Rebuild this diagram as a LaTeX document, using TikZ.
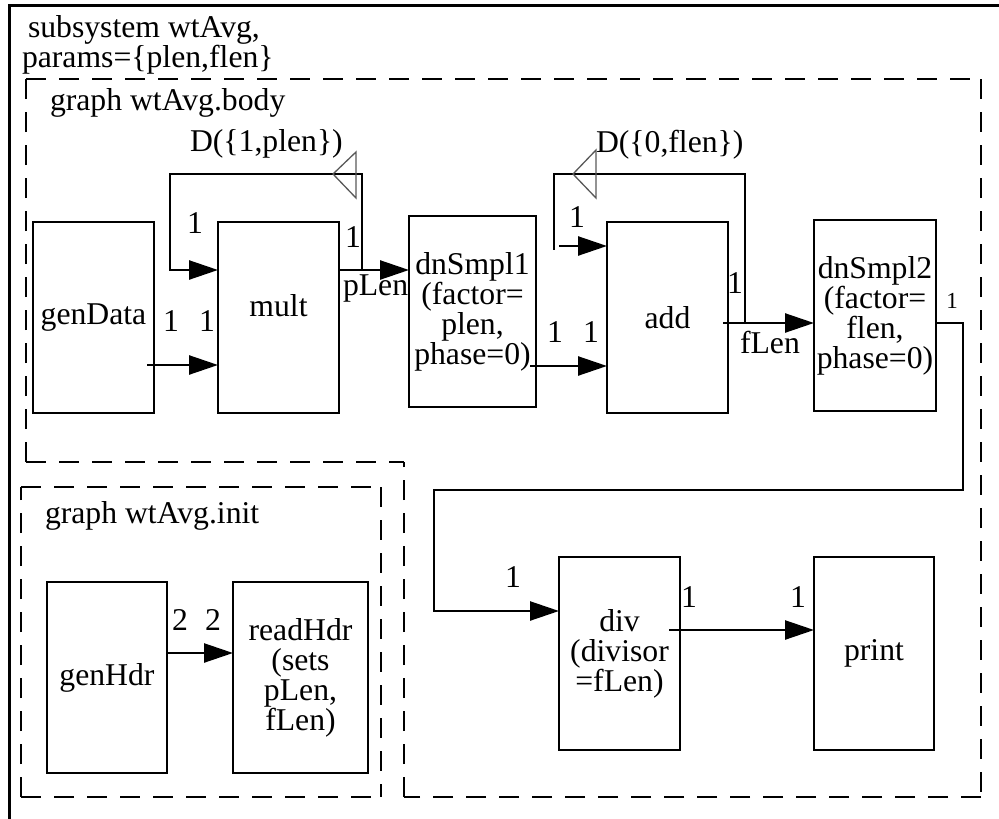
\documentclass[tikz,border=0pt]{standalone}
\usepackage{fontspec}
\setmainfont{Liberation Serif}
\usetikzlibrary{arrows.meta}
\begin{document}
\begin{tikzpicture}[x=1pt,y=-1pt,
  every node/.style={font=\fontsize{31.7}{30}\selectfont, inner sep=0pt, outer sep=0pt},
  blk/.style={draw, line width=2.5pt, align=center, inner sep=0pt},
  conn/.style={line width=2.5pt},
  arr/.style={line width=2.5pt, -{Triangle[length=29pt,width=19pt]}},
  dsh/.style={line width=2.5pt, dash pattern=on 20pt off 13pt},
  dly/.style={line width=1.3pt, draw=black!65},
  lbl/.style={anchor=base},
  small/.style={anchor=base, font=\fontsize{23}{26}\selectfont}
]
\useasboundingbox (0,0) rectangle (999,819);
% outer frame (right and bottom edges lie outside the picture)
\draw[line width=3pt] (9,819) -- (9,5) -- (999,5);
\node[anchor=base west] (t1) at (28,37) {subsystem wtAvg,};
\node[anchor=base west] (t2) at (22,67) {params=\{plen,flen\}};

% dashed graph frames
\draw[dsh] (26,79) -- (981,79);
\draw[dsh] (981,79) -- (981,797);
\draw[dsh] (981,797) -- (404,797);
\draw[dsh] (404,797) -- (404,462);
\draw[dsh] (26,462) -- (404,462);
\draw[dsh] (26,462) -- (26,79);
\draw[dsh] (21,487) -- (381,487);
\draw[dsh] (381,487) -- (381,797);
\draw[dsh] (21,797) -- (381,797);
\draw[dsh] (21,797) -- (21,487);
\node[anchor=base west] (tb) at (50,110) {graph wtAvg.body};
\node[anchor=base west] (ti) at (45,523) {graph wtAvg.init};

% blocks
\node[blk, minimum width=121pt, minimum height=191pt] (genData) at (93.5,317.5) {genData};
\node[blk, minimum width=121pt, minimum height=191pt] (mult) at (278.5,317.5) {\raisebox{12pt}[\height][\depth]{mult}};
\node[blk, minimum width=127pt, minimum height=191pt] (dnSmpl1) at (472.5,311.5) {dnSmpl1\\(factor=\\plen,\\phase=0)};
\node[blk, minimum width=121pt, minimum height=191pt] (add) at (667.5,317.5) {add};
\node[blk, minimum width=122pt, minimum height=191pt] (dnSmpl2) at (875,315.5) {dnSmpl2\\(factor=\\flen,\\phase=0)};
\node[blk, minimum width=121pt, minimum height=193pt] (div) at (619.5,653.5) {div\\(divisor\\=fLen)};
\node[blk, minimum width=120pt, minimum height=193pt] (print) at (874,653.5) {print};
\node[blk, minimum width=120pt, minimum height=191pt] (genHdr) at (107,677.5) {genHdr};
\node[blk, minimum width=135pt, minimum height=191pt] (readHdr) at (300.5,677.5) {readHdr\\(sets\\pLen,\\fLen)};

% free ends and junctions
\coordinate (gdo) at (147,365);
\coordinate (j1) at (362,270);
\coordinate (d1o) at (530,366);
\coordinate (ao) at (723,323);
\coordinate (j2) at (745,323);
\coordinate (l2e) at (559,246);
\coordinate (dvo) at (669,630);

% connectors
\draw[arr] (gdo) -- (mult.west |- 0,365);
\draw[arr] (mult.east |- 0,270) -- (dnSmpl1.west |- 0,270);
\draw[arr] (j1) -- (362,174) -- (170,174) -- (170,270) -- (mult.west |- 0,270);
\draw[arr] (d1o) -- (add.west |- 0,366);
\draw[arr] (ao) -- (dnSmpl2.west |- 0,323);
\draw[conn] (j2) -- (745,174) -- (554,174) -- (554,250);
\draw[arr] (l2e) -- (add.west |- 0,246);
\draw[arr] (dnSmpl2.east |- 0,323) -- (963,323) -- (963,490) -- (434,490) -- (434,611) -- (div.west |- 0,611);
\draw[arr] (dvo) -- (print.west |- 0,630);
\draw[arr] (genHdr.east |- 0,653) -- (readHdr.west |- 0,653);

% delay markers
\draw[dly] (356,152) -- (356,198) -- (333,174) -- cycle;
\draw[dly] (596,150) -- (596,198) -- (573,174) -- cycle;
\node[anchor=base west] (dl1) at (190,151) {D(\{1,plen\})};
\node[anchor=base west] (dl2) at (596,152) {D(\{0,flen\})};

% port labels
\node[lbl] (p1) at (171,331) {1};
\node[lbl] (p2) at (207,331) {1};
\node[lbl] (p3) at (195,233) {1};
\node[lbl] (p4) at (353,247) {1};
\node[anchor=base west] (pl) at (343,295) {pLen};
\node[lbl] (p5) at (577,227) {1};
\node[lbl] (p6) at (735,293) {1};
\node[anchor=base west] (fl) at (740,353) {fLen};
\node[lbl] (p7) at (555,342) {1};
\node[lbl] (p8) at (591,342) {1};
\node[small] (p9) at (952,308) {1};
\node[lbl] (p10) at (513,587) {1};
\node[lbl] (p11) at (689,607) {1};
\node[lbl] (p12) at (798,607) {1};
\node[lbl] (p13) at (180,630) {2};
\node[lbl] (p14) at (213,630) {2};
\end{tikzpicture}
\end{document}
